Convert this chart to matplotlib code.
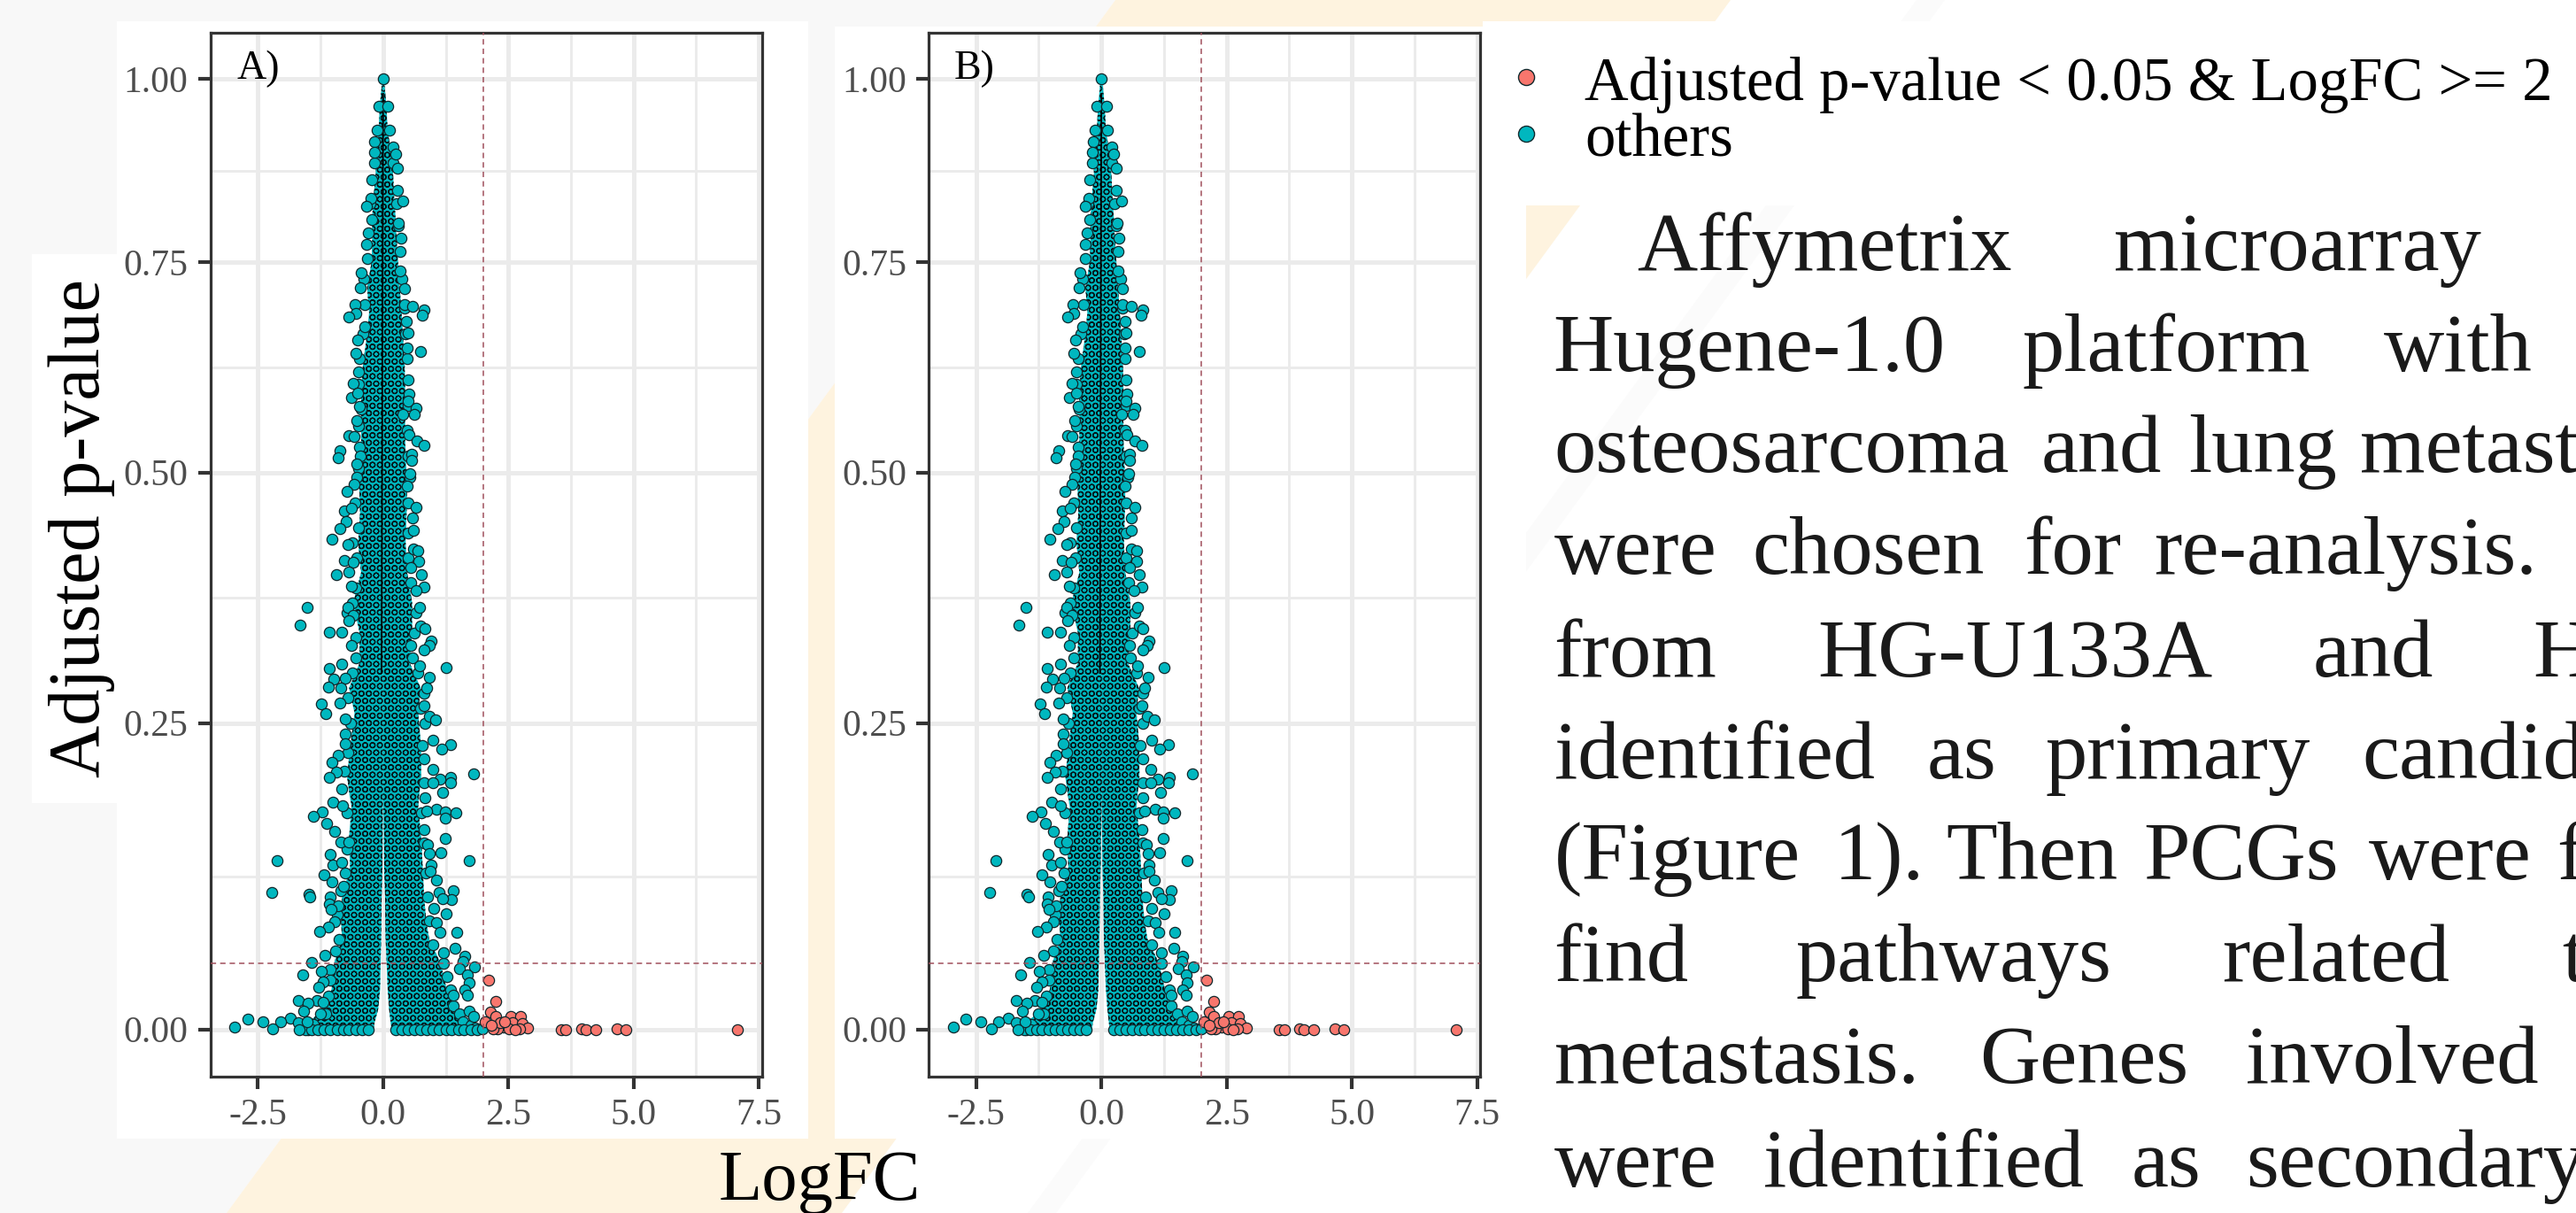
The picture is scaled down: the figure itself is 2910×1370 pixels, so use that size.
import matplotlib
matplotlib.use('Agg')
import matplotlib.pyplot as plt
import numpy as np

plt.rcParams['font.family'] = ['Liberation Serif', 'DejaVu Serif']
plt.rcParams['hatch.linewidth'] = 0.9

W, H = 2910, 1370

# single genes that stand out of the cloud
other_x = [0.0, -0.09, 0.10, -0.165, -0.18, 0.20, 0.25, 0.295, -0.235, 0.295, -0.25, -0.33, 0.395, 0.31, -0.235,
           -0.325, 0.355, 0.335, -0.43, -0.45, 0.42, -0.565, -0.55, -0.68, 0.42, 0.59, 0.825, 0.79, 0.465, 0.495,
           -0.37, -0.51, -0.55, 0.75, 0.48, -0.49, -0.595, -0.635, -0.505, -0.47, -0.53, 0.51, 0.495, 0.66, 0.63,
           0.395, -0.68, -0.58, 0.51, 0.67, 0.81, -0.855, -0.90, -0.46, -0.52, 0.57, 0.57, 0.54, -0.53, -0.58,
           -0.725, 0.48,
           -0.78, -0.625, 0.66, 0.59, -0.74, -0.87, 0.60, -1.02, -0.695, 0.60, 0.70, -0.78, -0.605, 0.71, -0.94,
           -0.685, 0.765, 0.555, 0.81, -0.635, 0.65, -1.51, -1.65, -1.08, -0.825, -0.695, -0.59, -0.68, 0.72, 0.75,
           0.835, 0.955, 0.915, 0.82, 0.555, -0.635, 1.26, -1.08, -0.825, -0.98, -1.095, -0.84, 0.73, 0.925, 0.865,
           -1.23, -1.14, -0.86, 0.81, 0.915, 1.055, -0.755, -0.765, -0.755, 1.0, 1.34, 1.17, 0.78, -0.90, -1.02,
           -0.93, -1.08, 0.985, 1.81, 1.355, 1.34, 1.13, 0.985, 1.18, 0.835, -1.0, -0.81, -1.21, -1.39, -1.12, -0.96,
           1.07, 0.865, 1.24, 1.455, 1.24, 0.81, 1.24, -0.84, -0.685, 0.895, -1.06, -1.0, -0.825, -2.115, 1.71, 1.16,
           0.925, 0.955, 0.945, -1.18, -1.02, 1.06, -0.80, -2.23, -1.485, -1.46, 1.395, 1.12, 1.365, 1.19, -1.06,
           -1.08, -0.9, -1.04, 1.01, 1.26, 1.07, -0.96, -1.095, -1.27, 1.47, 1.14,
           1.44, 1.2, 1.63, 1.6, -1.43, -1.155, 1.83, 1.53, -1.61, -1.24, -1.05, 1.69, 1.71, 1.63, -1.195, -1.285,
           1.69, -1.7, -1.33, -1.49, -1.195, 1.395, -1.58, 1.71, 1.81, -1.86, -2.7, -2.405, -2.05, -2.96, -2.2, -1.7,
           -1.52, -1.67, 1.99]
other_y = [1.0, 0.963, 0.963, 0.915, 0.90, 0.907, 0.898, 0.878, 0.862, 0.848, 0.837, 0.826, 0.833, 0.803, 0.808,
           0.774, 0.783, 0.740, 0.737, 0.719, 0.718, 0.699, 0.689, 0.685, 0.70, 0.697, 0.693, 0.687, 0.679, 0.666,
           0.673, 0.657, 0.642, 0.644, 0.648, 0.620, 0.606, 0.589, 0.594, 0.579, 0.562, 0.593, 0.585, 0.576, 0.569,
           0.569, 0.544, 0.543, 0.545, 0.537, 0.532, 0.526, 0.517, 0.52, 0.51, 0.522, 0.514, 0.499, 0.495, 0.488,
           0.481, 0.486,
           0.462, 0.464, 0.465, 0.455, 0.451, 0.444, 0.442, 0.433, 0.428, 0.424, 0.422, 0.412, 0.41, 0.411, 0.398,
           0.401, 0.398, 0.405, 0.386, 0.387, 0.382, 0.365, 0.348, 0.341, 0.341, 0.365, 0.357, 0.352, 0.365, 0.347,
           0.344, 0.332, 0.327, 0.323, 0.327, 0.327, 0.305, 0.304, 0.309, 0.294, 0.286, 0.285, 0.307, 0.296, 0.285,
           0.269, 0.259, 0.27, 0.267, 0.257, 0.253, 0.254, 0.241, 0.233, 0.236, 0.232, 0.228, 0.231, 0.223, 0.217,
           0.209, 0.2045, 0.211, 0.208, 0.205, 0.200, 0.203, 0.2, 0.192, 0.188, 0.184, 0.181, 0.176, 0.172, 0.166,
           0.16, 0.178, 0.177, 0.176, 0.175, 0.171, 0.161, 0.154, 0.151, 0.151, 0.149, 0.1405, 0.132, 0.134, 0.135,
           0.135, 0.142, 0.141, 0.132, 0.1265, 0.1235, 0.118, 0.119, 0.114, 0.1086, 0.107, 0.105, 0.11, 0.1085, 0.103,
           0.1035, 0.105, 0.099, 0.0975, 0.0945, 0.0955, 0.0913, 0.084, 0.0847, 0.08, 0.0763, 0.0753, 0.0758,
           0.0625, 0.059, 0.0556, 0.0512, 0.0507, 0.0564, 0.047, 0.046, 0.041, 0.0435, 0.037, 0.041, 0.035, 0.0295,
           0.0355, 0.032, 0.026, 0.022, 0.022, 0.02, 0.0206, 0.026, 0.014, 0.014, 0.0095, 0.0084, 0.0075, 0.0055,
           0.0055, 0.0017, 0.0002, 0.005, 0.006, -0.0005, 0.0006]

# genes on the rim of the solid mass, left side, right side, then the row along zero
rim_x = [-0.12, -0.18, -0.26, -0.29, -0.32, -0.38, -0.36, -0.41, -0.47, -0.5, -0.44, -0.5, -0.47, -0.5, -0.56, -0.5,
         -0.62, -0.52, -0.55, -0.62, -0.72, -0.55, -0.55, -0.62, -0.75, -0.7, -0.65, -0.7, -0.78, -0.82, -0.72, -0.72,
         -0.75, -0.85, -0.92, -0.88, -0.95, -1.05, -1.1, -1.15, -1.25, -1.4, -1.5,
         0.12, 0.2, 0.27, 0.3, 0.34, 0.38, 0.42, 0.45, 0.48, 0.5, 0.5, 0.48, 0.5, 0.53, 0.5, 0.5, 0.5, 0.55, 0.66,
         0.62, 0.58, 0.7, 0.82, 0.75, 0.83, 0.82, 0.82, 0.76, 0.82, 0.85, 0.88, 0.93, 1.0, 1.2, 1.28, 1.35, 1.4, 1.52,
         1.6, 1.75, 1.85,
         -1.55, -1.42, -1.3, -1.18, -1.05, -0.92, -0.8, -0.68, -0.55, -0.42, -0.3, 0.25, 0.37, 0.5, 0.62, 0.75, 0.87,
         1.0, 1.12, 1.25, 1.37, 1.5, 1.62, 1.75, 1.88]
rim_y = [0.93, 0.885, 0.83, 0.79, 0.755, 0.73, 0.70, 0.665, 0.635, 0.605, 0.575, 0.555, 0.53, 0.505, 0.47, 0.445,
         0.43, 0.415, 0.385, 0.37, 0.36, 0.335, 0.315, 0.30, 0.295, 0.275, 0.25, 0.225, 0.21, 0.195, 0.175, 0.145,
         0.125, 0.11, 0.09, 0.07, 0.06, 0.045, 0.025, 0.012, 0.012, 0.004, 0.0,
         0.93, 0.885, 0.83, 0.80, 0.765, 0.73, 0.695, 0.665, 0.635, 0.61, 0.58, 0.55, 0.52, 0.495, 0.47, 0.44, 0.415,
         0.39, 0.36, 0.34, 0.315, 0.30, 0.28, 0.265, 0.25, 0.22, 0.20, 0.175, 0.15, 0.125, 0.105, 0.085, 0.065, 0.05,
         0.04, 0.03, 0.018, 0.012, 0.006, 0.003, 0.001,
         -0.0005, -0.0005, -0.0005, -0.0005, -0.0005, -0.0005, -0.0005, -0.0005, -0.0005, -0.0005, -0.0005, -0.0005,
         -0.0005, -0.0005, -0.0005, -0.0005, -0.0005, -0.0005, -0.0005, -0.0005, -0.0005, -0.0005, -0.0005, -0.0005,
         -0.0005]

sig_x = [2.1, 2.24, 2.145, 2.25, 2.04, 2.545, 2.735, 2.59, 2.77, 2.89, 2.72, 2.4, 2.28, 2.52, 2.63, 2.19, 2.34, 2.16,
         2.43, 3.55, 3.65, 3.96, 4.05, 4.24, 4.67, 4.84, 7.08]
sig_y = [0.0373, 0.0208, 0.0128, 0.0095, 0.0055, 0.01, 0.01, 0.005, 0.0046, 0.0008, 0.0006, 0.0017, 0.0006, 0.0006,
         -0.0005, 0.0006, 0.005, 0.0028, 0.006, 0.0, 0.0, 0.0005, 0.0, 0.0, 0.0005, 0.0, 0.0]

# outline of the solid mass of points, read level by level, and the slit at zero
core_y = [1.0, 0.99, 0.96, 0.93, 0.90, 0.87, 0.84, 0.81, 0.78, 0.75, 0.72, 0.69, 0.66, 0.63, 0.60, 0.57, 0.54, 0.51,
          0.49, 0.46, 0.43, 0.40, 0.37, 0.34, 0.31, 0.285, 0.26, 0.23, 0.205, 0.19, 0.18, 0.155, 0.13, 0.105, 0.085,
          0.07, 0.05, 0.03, 0.015, 0.005, -0.003]
core_left = [0.0, -0.03, -0.07, -0.09, -0.15, -0.15, -0.19, -0.22, -0.22, -0.23, -0.32, -0.28, -0.33, -0.4, -0.44,
             -0.44, -0.44, -0.44, -0.48, -0.46, -0.5, -0.44, -0.6, -0.47, -0.47, -0.68, -0.57, -0.66, -0.72, -0.67,
             -0.63, -0.68, -0.66, -0.82, -0.84, -0.82, -0.98, -1.03, -1.2, -1.5, -1.55]
core_right = [0.0, 0.03, 0.07, 0.09, 0.16, 0.2, 0.22, 0.25, 0.27, 0.3, 0.33, 0.37, 0.4, 0.43, 0.44, 0.44, 0.44,
              0.46, 0.48, 0.47, 0.45, 0.48, 0.58, 0.58, 0.53, 0.75, 0.7, 0.76, 0.76, 0.72, 0.7, 0.76, 0.79, 0.82,
              0.86, 0.92, 1.15, 1.27, 1.45, 1.75, 1.8]
gap_left = [0.0] * 30 + [-0.005, -0.01, -0.015, -0.03, -0.035, -0.04, -0.05, -0.06, -0.10, -0.17, -0.20]
gap_right = [0.0] * 30 + [0.005, 0.015, 0.02, 0.04, 0.045, 0.05, 0.07, 0.09, 0.12, 0.15, 0.17]

x_major = [-2.5, 0.0, 2.5, 5.0, 7.5]
x_minor = [-1.25, 1.25, 3.75, 6.25]
x_labels = ['-2.5', '0.0', '2.5', '5.0', '7.5']
y_major = [0.0, 0.25, 0.5, 0.75, 1.0]
y_labels = ['0.00', '0.25', '0.50', '0.75', '1.00']

# the y axis of the figure is not linear, this is where its breaks sit
y_knots = [-0.0356, 0.0, 0.05, 0.25, 0.5, 0.75, 1.0, 1.063]
y_place = [0, 53.4, 128.3, 399.4, 682.4, 920.0, 1126.7, 1179.0]


def y_fwd(v):
    return np.interp(v, y_knots, y_place)


def y_inv(v):
    return np.interp(v, y_place, y_knots)


y_minor = [float(y_inv((y_fwd(a) + y_fwd(b)) / 2)) for a, b in zip(y_major[:-1], y_major[1:])]

teal = '#00B7BF'
red = '#F8766D'
edge = '#10282c'
grid = '#EBEBEB'
cream = '#FEF3DF'

fig = plt.figure(figsize=(W / 100, H / 100), dpi=100, facecolor='white')

# page behind the charts, in pixels
bg = fig.add_axes([0, 0, 1, 1])
bg.set_xlim(0, W)
bg.set_ylim(H, 0)
bg.axis('off')
bg.fill([0, 1260, 256, 0], [0, 0, H, H], color='#F8F8F8', lw=0)
bg.fill([1260, 1955, 951, 256], [0, 0, H, H], color=cream, lw=0)
bg.fill([2165, 2197, 1193, 1161], [0, 0, H, H], color='#FBFBFB', lw=0)
bg.fill([132, 913, 913, 132], [24, 24, 1286, 1286], color='white', lw=0)
bg.fill([36, 132, 132, 36], [287, 287, 907, 907], color='white', lw=0)
bg.fill([943, 1675, 1675, 943], [30, 30, 1286, 1286], color='white', lw=0)
bg.fill([1675, W, W, 1675], [24, 24, 232, 232], color='white', lw=0)
bg.fill([1675, 1724, 1724, 1675], [232, 232, H, H], color='white', lw=0)


def draw_panel(left, tag, tag_x):
    ax = fig.add_axes([left / W, 1 - 1216 / H, 623.5 / W, 1179 / H], facecolor='none')
    ax.set_yscale('function', functions=(y_fwd, y_inv))
    ax.set_xlim(-3.45, 7.57)
    ax.set_ylim(y_knots[0], y_knots[-1])
    ax.set_axisbelow(True)
    ax.set_xticks(x_major)
    ax.set_xticks(x_minor, minor=True)
    ax.set_xticklabels(x_labels)
    ax.set_yticks(y_major)
    ax.set_yticks(y_minor, minor=True)
    ax.set_yticklabels(y_labels)
    ax.grid(which='major', color=grid, lw=3.6)
    ax.grid(which='minor', color=grid, lw=2.1)
    ax.tick_params(which='major', length=10, width=3, color='#333333', labelsize=30, labelcolor='#4D4D4D', pad=8)
    ax.tick_params(which='minor', length=0)
    for s in ax.spines.values():
        s.set_color('#333333')
        s.set_linewidth(2.3)

    ax.fill_betweenx(core_y, core_left, gap_left, facecolor=teal, edgecolor='#05161a', hatch='OO', lw=0, zorder=2)
    ax.fill_betweenx(core_y, gap_right, core_right, facecolor=teal, edgecolor='#05161a', hatch='OO', lw=0, zorder=2)
    ax.plot([0.0, -0.03], [0.98, 0.3], color='black', lw=1.3, zorder=2.5)
    ax.scatter(rim_x, rim_y, s=78, color=teal, edgecolors=edge, linewidths=0.9, zorder=2.8)
    ax.scatter(other_x, other_y, s=78, color=teal, edgecolors=edge, linewidths=0.9, zorder=3)
    ax.scatter(sig_x, sig_y, s=78, color=red, edgecolors=edge, linewidths=0.9, zorder=3)
    ax.axvline(2.0, color='#A0505C', lw=1.1, ls=(0, (4, 3)), zorder=4)
    ax.axhline(0.05, color='#A0505C', lw=1.1, ls=(0, (4, 3)), zorder=4)
    ax.text(tag_x, 89, tag, fontsize=33, color='black', va='baseline', ha='left', transform=bg.transData, zorder=5)
    return ax


draw_panel(237.6, 'A)', 268)
draw_panel(1049, 'B)', 1077.5)

bg.text(112, 596, 'Adjusted p-value', fontsize=59, rotation=90, rotation_mode='anchor', va='baseline', ha='center')
bg.text(812, 1355, 'LogFC', fontsize=58, va='baseline', ha='left')

# legend
bg.scatter([1724], [87], s=170, color=red, edgecolors=edge, linewidths=1.0)
bg.scatter([1724], [151], s=170, color=teal, edgecolors=edge, linewidths=1.0)
bg.text(1790, 113, 'Adjusted p-value < 0.05 & LogFC >= 2', fontsize=49.5, va='baseline', ha='left')
bg.text(1790, 176, 'others', fontsize=49.5, va='baseline', ha='left')

# running text next to the figure, justified in the source so word by word
body = [
    (305, [(1849, 'Affymetrix'), (2388, 'microarray')]),
    (419, [(1754.5, 'Hugene-1.0'), (2285, 'platform'), (2693, 'with')]),
    (533, [(1755.5, 'osteosarcoma'), (2306, 'and'), (2472, 'lung'), (2666, 'metast')]),
    (648, [(1755.5, 'were'), (1979, 'chosen'), (2286, 'for'), (2433, 're-analysis.')]),
    (764, [(1755.5, 'from'), (2053, 'HG-U133A'), (2613, 'and'), (2861, 'H')]),
    (879, [(1755.5, 'identified'), (2177, 'as'), (2310, 'primary'), (2668, 'candid')]),
    (993, [(1755.5, '(Figure'), (2072, '1).'), (2198, 'Then'), (2421, 'PCGs'), (2676, 'were'), (2888, 'f')]),
    (1108, [(1755.5, 'find'), (2028, 'pathways'), (2510, 'related'), (2894, 't')]),
    (1223, [(1755.5, 'metastasis.'), (2236, 'Genes'), (2537, 'involved')]),
    (1340, [(1755.5, 'were'), (1992, 'identified'), (2408, 'as'), (2537, 'secondary')]),
]
for base, words in body:
    for px, word in words:
        bg.text(px, base, word, fontsize=68, color='#1a1a1a', va='baseline', ha='left')

fig.savefig('out.png', dpi=100)
